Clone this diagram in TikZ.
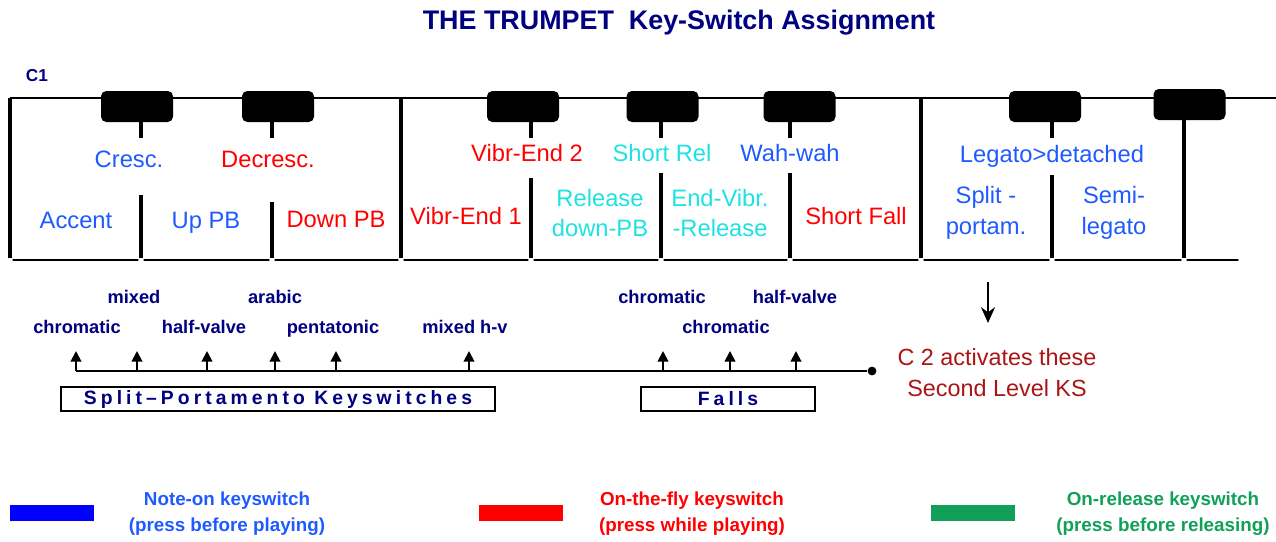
\documentclass[tikz,border=0pt]{standalone}
\usepackage{fontspec}
\setmainfont{Liberation Sans}
\usetikzlibrary{arrows.meta}
\definecolor{azul}{RGB}{30,90,255}
\definecolor{rojo}{RGB}{255,0,0}
\definecolor{cian}{RGB}{30,225,225}
\definecolor{marino}{RGB}{0,0,128}
\definecolor{granate}{RGB}{170,20,20}
\definecolor{verde}{RGB}{16,160,88}
\begin{document}
\begin{tikzpicture}[>=Stealth, thick,
    tecla/.style={fill=black, rounded corners=3pt, minimum width=1.44cm, minimum height=0.62cm, inner sep=0pt},
    rotulo/.style={font=\fontsize{13.5}{17.5}\selectfont, align=center, inner sep=0pt},
    nota/.style={font=\fontsize{10.4}{12}\selectfont\bfseries, text=marino, anchor=base, inner sep=0pt},
    caja/.style={draw, line width=0.8pt, minimum height=0.48cm, inner sep=0pt, text=marino,
        font=\fontsize{11}{12}\selectfont\bfseries\addfontfeature{LetterSpace=21}},
    leyenda/.style={font=\fontsize{10.7}{14.7}\selectfont\bfseries, align=center, inner sep=0pt}]

    \useasboundingbox (0,0) rectangle (25.52,-10.82);

    % Titulo y nota de partida
    \node[font=\fontsize{15.3}{18}\selectfont\bfseries, text=marino] (titulo) at (13.58,-0.46) {THE TRUMPET\ \ Key-Switch Assignment};
    \node[font=\fontsize{9.8}{12}\selectfont\bfseries, text=marino] (c1) at (0.74,-1.52) {C1};

    % Teclado: borde superior, divisiones y bordes inferiores
    \draw[line width=0.85pt] (0.2,-1.96) -- (25.52,-1.96);
    \foreach \x/\y in {0.2/-1.96, 2.82/-3.9, 5.44/-4.04, 8.02/-1.96, 10.62/-3.56,
        13.22/-3.46, 15.8/-3.46, 18.42/-1.96, 21.04/-3.5, 23.68/-2.4}
        \draw[line width=2pt] (\x,\y) -- (\x,-5.16);
    \foreach \a/\b in {0.2/2.82, 2.82/5.44, 5.44/8.02, 8.02/10.62, 10.62/13.22,
        13.22/15.8, 15.8/18.42, 18.42/21.04, 21.04/23.68, 23.68/24.82}
        \draw[line width=1.7pt, line cap=round] ({\a+0.07},-5.2) -- ({\b-0.07},-5.2);

    % Teclas negras con su patilla
    \foreach \n/\x/\s in {1/2.74/2.82, 2/5.56/5.44, 3/10.46/10.62, 4/13.25/13.22, 5/15.99/15.8, 6/20.9/21.04} {
        \node[tecla] (k\n) at (\x,-2.13) {};
        \draw[line width=2pt] (\s,-2.44) -- (\s,-2.76);
    }
    \node[tecla] (k7) at (23.79,-2.09) {};

    % Rotulos de las teclas
    \node[rotulo, text=azul, anchor=base] (cresc) at (2.58,-3.34) {Cresc.};
    \node[rotulo, text=rojo, anchor=base] (decresc) at (5.36,-3.34) {Decresc.};
    \node[rotulo, text=azul, anchor=base] (accent) at (1.52,-4.56) {Accent};
    \node[rotulo, text=azul, anchor=base] (uppb) at (4.12,-4.56) {Up PB};
    \node[rotulo, text=rojo, anchor=base] (downpb) at (6.72,-4.54) {Down PB};
    \node[rotulo, text=rojo, anchor=base] (vibr2) at (10.54,-3.22) {Vibr-End 2};
    \node[rotulo, text=cian, anchor=base] (shortrel) at (13.24,-3.22) {Short Rel};
    \node[rotulo, text=azul, anchor=base] (wahwah) at (15.8,-3.22) {Wah-wah};
    \node[rotulo, text=rojo, anchor=base] (vibr1) at (9.32,-4.48) {Vibr-End 1};
    \node[rotulo, text=cian] (release) at (12.0,-4.26) {Release\\down-PB};
    \node[rotulo, text=cian] (endvibr) at (14.4,-4.26) {End-Vibr.\\-Release};
    \node[rotulo, text=rojo, anchor=base] (shortfall) at (17.12,-4.48) {Short Fall};
    \node[rotulo, text=azul, anchor=base] (legato) at (21.04,-3.24) {Legato>detached};
    \node[rotulo, text=azul] (split) at (19.72,-4.26) {Split -\\portam.};
    \node[rotulo, text=azul] (semi) at (22.28,-4.26) {Semi-\\legato};

    % Variantes de portamento y caidas
    \node[nota] (n1) at (1.54,-6.66) {chromatic};
    \node[nota] (n2) at (2.68,-6.06) {mixed};
    \node[nota] (n3) at (4.08,-6.66) {half-valve};
    \node[nota] (n4) at (5.5,-6.06) {arabic};
    \node[nota] (n5) at (6.66,-6.66) {pentatonic};
    \node[nota] (n6) at (9.3,-6.66) {mixed h-v};
    \node[nota] (n7) at (13.24,-6.06) {chromatic};
    \node[nota] (n8) at (14.52,-6.66) {chromatic};
    \node[nota] (n9) at (15.9,-6.06) {half-valve};

    % Linea base con flechas hacia cada variante
    \coordinate (ini) at (1.52,-7.42);
    \node[circle, fill, inner sep=0pt, minimum size=5pt] (fin) at (17.44,-7.42) {};
    \draw[line width=0.75pt] (ini) -- (fin);
    \foreach \x in {1.52, 2.74, 4.14, 5.5, 6.72, 9.38, 13.26, 14.6, 15.92}
        \draw[line width=1.1pt, -{Triangle[length=6pt, width=6pt]}] (\x,-7.42) -- (\x,-7.02);

    % Cajas de grupo
    \node[caja, minimum width=8.68cm] (grupo1) at (5.56,-7.98) {Split–Portamento Keyswitches};
    \node[caja, minimum width=3.48cm] (grupo2) at (14.56,-7.98) {Falls};

    % Aviso del segundo nivel
    \coordinate (flecha) at (19.76,-5.64);
    \coordinate (punta) at (19.76,-6.46);
    \draw[-{Stealth[length=9pt, width=8pt]}, line width=1.1pt] (flecha) -- (punta);
    \node[font=\fontsize{13.3}{17.5}\selectfont, text=granate, align=center] (c2) at (19.94,-7.46) {C 2 activates these\\Second Level KS};

    % Leyenda de colores
    \fill[blue] (0.2,-10.1) rectangle (1.88,-10.42);
    \fill[rojo] (9.58,-10.1) rectangle (11.26,-10.42);
    \fill[verde] (18.62,-10.1) rectangle (20.3,-10.42);
    \node[leyenda, text=azul] (ley1) at (4.54,-10.28) {Note-on keyswitch\\(press before playing)};
    \node[leyenda, text=rojo] (ley2) at (13.84,-10.28) {On-the-fly keyswitch\\(press while playing)};
    \node[leyenda, text=verde] (ley3) at (23.26,-10.28) {On-release keyswitch\\(press before releasing)};

\end{tikzpicture}
\end{document}
